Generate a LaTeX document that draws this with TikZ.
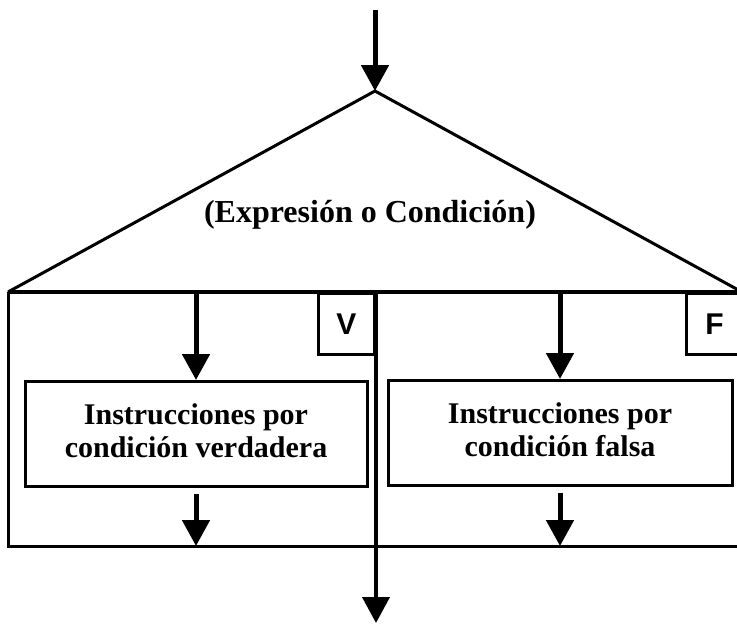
\documentclass[tikz,border=0pt]{standalone}
\usepackage{fontspec}
\setmainfont{Liberation Serif}
\newfontfamily\vfsans{Liberation Sans}
\usetikzlibrary{arrows.meta,positioning}

\begin{document}
\begin{tikzpicture}[x=1pt,y=-1pt,
 caja/.style={rectangle,draw,line width=3pt,minimum width=342pt,minimum height=105pt,align=center,font=\fontsize{30}{33}\selectfont\bfseries},
 marca/.style={rectangle,draw,line width=3pt,minimum width=56pt,minimum height=61pt,font=\vfsans\fontsize{30}{33}\selectfont\bfseries},
 flecha/.style={line width=5pt,-{Triangle[length=26pt,width=27pt]}}]
\useasboundingbox (0,0) rectangle (737,625);
\coordinate (entrada) at (375,10);
\coordinate (cima) at (375,91);
\coordinate (izq) at (8,292);
\coordinate (der) at (742,292);
\coordinate (abajo) at (8,546);
\coordinate (abajoder) at (742,546);
\coordinate (salida) at (376,623);
\node[font=\fontsize{32}{35}\selectfont\bfseries, anchor=base] (cond) at (370,222) {(Expresión o Condición)};
\node[marca, anchor=north east] (V) at (376,292) {V};
\node[marca, anchor=north west] (F) at (685,292) {F};
\node[caja] (verd) at (196,434) {Instrucciones por\\condición verdadera\vphantom{p}};
\node[caja, minimum width=344pt] (fals) at (560,433) {Instrucciones por\\condición falsa\vphantom{p}};
\draw[flecha] (entrada) -- (cima);
\draw[line width=3pt] (izq) -- (cima) -- (der);
\draw[line width=4pt] (izq) -- (der);
\draw[line width=3pt] (izq) -- (abajo) -- (abajoder);
\draw[flecha] (verd.north |- izq) -- (verd.north);
\draw[flecha] (fals.north |- izq) -- (fals.north);
\draw[flecha] ([yshift=-6pt]verd.south) -- (verd.south |- abajo);
\draw[flecha] ([yshift=-6pt]fals.south) -- (fals.south |- abajo);
\draw[flecha, line width=4pt] (V.north east) -- (salida);
\end{tikzpicture}
\end{document}
